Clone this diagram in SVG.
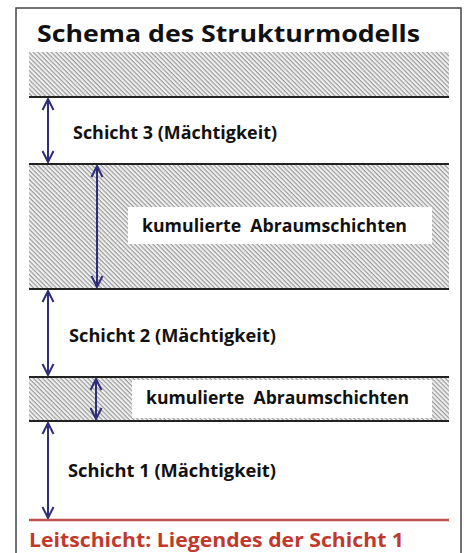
<svg xmlns="http://www.w3.org/2000/svg" width="467" height="553" viewBox="0 0 467 553">
<defs>
<pattern id="hatch" patternUnits="userSpaceOnUse" width="3.2" height="3.2" patternTransform="rotate(45)">
<rect width="3.2" height="3.2" fill="#efefef"/>
<rect y="0" width="3.2" height="1.15" fill="#9a9a9a"/>
</pattern>
<marker id="ah" viewBox="0 0 14 14" refX="13" refY="7" markerWidth="14" markerHeight="14" markerUnits="userSpaceOnUse" orient="auto-start-reverse">
<path d="M2,1.5 L13,7 L2,12.5" fill="none" stroke="#2d2d7a" stroke-width="2"/>
</marker>
<style>
.t{font-family:"Open Sans","Liberation Sans",sans-serif;font-weight:bold;fill:#111}
.sep{stroke:#222;stroke-width:2}
.arr{stroke:#2d2d7a;stroke-width:2;fill:none;marker-start:url(#ah);marker-end:url(#ah)}
.band{fill:url(#hatch)}
</style>
</defs>
<rect x="0" y="0" width="467" height="553" fill="#ffffff"/>
<rect x="16" y="8" width="445" height="560" fill="#ffffff" stroke="#444" stroke-width="1.5"/>
<g id="title"><text class="t" x="37" y="42" font-size="24" textLength="383" lengthAdjust="spacingAndGlyphs">Schema des Strukturmodells</text></g>
<g id="band-top"><rect class="band" x="29" y="52" width="420" height="45"/></g>
<g id="band-kum1"><rect class="band" x="29" y="164" width="420" height="125"/><rect x="128" y="207" width="304" height="37" fill="#fff"/>
<text class="t" x="142" y="232" font-size="17.5" textLength="265" lengthAdjust="spacingAndGlyphs" xml:space="preserve">kumulierte  Abraumschichten</text></g>
<g id="band-kum2"><rect class="band" x="29" y="377" width="420" height="44"/><rect x="132" y="380" width="300" height="38" fill="#fff"/>
<text class="t" x="146" y="404" font-size="17.5" textLength="263" lengthAdjust="spacingAndGlyphs" xml:space="preserve">kumulierte  Abraumschichten</text></g>
<g id="schicht3"><text class="t" x="73" y="139" font-size="17.5" textLength="204" lengthAdjust="spacingAndGlyphs">Schicht 3 (Mächtigkeit)</text></g>
<g id="schicht2"><text class="t" x="69" y="342" font-size="17.5" textLength="207" lengthAdjust="spacingAndGlyphs">Schicht 2 (Mächtigkeit)</text></g>
<g id="schicht1"><text class="t" x="68" y="477" font-size="17.5" textLength="208" lengthAdjust="spacingAndGlyphs">Schicht 1 (Mächtigkeit)</text></g>
<g id="lines">
<line class="sep" x1="29" y1="97" x2="449" y2="97"/>
<line class="sep" x1="29" y1="164" x2="449" y2="164"/>
<line class="sep" x1="29" y1="289" x2="449" y2="289"/>
<line class="sep" x1="29" y1="377" x2="449" y2="377"/>
<line class="sep" x1="29" y1="421" x2="449" y2="421"/>
<line x1="29" y1="520" x2="449" y2="520" stroke="#c0504d" stroke-width="2.5"/>
</g>
<g id="connectors">
<line class="arr" x1="48" y1="99" x2="48" y2="162"/>
<line class="arr" x1="97" y1="166" x2="97" y2="287"/>
<line class="arr" x1="48" y1="291" x2="48" y2="375"/>
<line class="arr" x1="96" y1="379" x2="96" y2="419"/>
<line class="arr" x1="48" y1="423" x2="48" y2="518"/>
</g>
<g id="leitschicht"><text x="29" y="547" font-size="19" font-family="'Open Sans','Liberation Sans',sans-serif" font-weight="bold" fill="#c0392b" textLength="375" lengthAdjust="spacingAndGlyphs">Leitschicht: Liegendes der Schicht 1</text></g>
</svg>
